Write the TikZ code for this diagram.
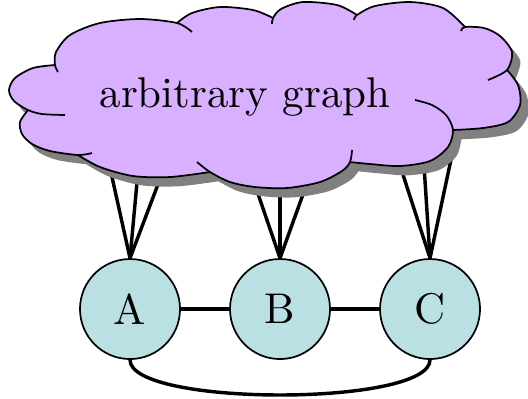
\documentclass[tikz,border=0pt]{standalone}
\usetikzlibrary{shadows}

\definecolor{cloudfill}{RGB}{217,176,255}
\definecolor{vertfill}{RGB}{186,224,227}

\begin{document}
\begin{tikzpicture}[x=0.008177cm,y=0.008177cm]
      \tikzstyle{vertex} = [circle, draw, fill=vertfill, minimum size=0.818cm, inner sep=0pt]
        \tikzstyle{edge}=[thick]
        \tikzstyle{puff}=[smooth]
      \useasboundingbox (0,0) rectangle (528,-398);
          % the three vertices in a row
          \node[vertex] (A) at (130,-309) {A};
          \node[vertex] (B) at (280,-309) {B};
          \node[vertex] (C) at (430,-309) {C};
          \draw[edge] (A) -- (B);
          \draw[edge] (B) -- (C);
          \draw[edge] (A.south) to[out=-90,in=-90,looseness=0.4] (C.south);
          % edges into the rest of the graph
          \foreach \x [count=\i] in {106,140,171}{
             \coordinate (pa\i) at (\x,-150);
             \draw[edge] (A.north) -- (pa\i);
          }
          \foreach \x [count=\i] in {243,280,319}{
             \coordinate (pb\i) at (\x,-150);
             \draw[edge] (B.north) -- (pb\i);
          }
          \foreach \x [count=\i] in {395,423,453}{
             \coordinate (pc\i) at (\x,-150);
             \draw[edge] (C.north) -- (pc\i);
          }
          % the graph itself: filled cloud first, then each puff
          \path[fill=cloudfill, drop shadow={opacity=1, fill=black!50, shadow xshift=0.45ex, shadow yshift=-0.5ex}]
            plot[puff] coordinates {(177,-23) (140,-19) (100,-23) (70,-35) (56,-52) (55,-65)}
            -- plot[puff] coordinates {(55,-65) (33,-68) (15,-78) (9,-90) (14,-101) (28,-110)}
            -- plot[puff] coordinates {(28,-110) (20,-122) (22,-134) (32,-144) (50,-151) (78,-155)}
            -- plot[puff] coordinates {(78,-155) (100,-167) (133,-176) (170,-177) (210,-172)}
            -- plot[puff] coordinates {(210,-172) (230,-182) (255,-187) (287,-188) (320,-182) (342,-171) (350,-162)}
            -- plot[puff] coordinates {(350,-162) (370,-164) (400,-166) (430,-161) (448,-147) (453,-130)}
            -- plot[puff] coordinates {(453,-130) (483,-128) (508,-122) (520,-105) (518,-85) (507,-70)}
            -- plot[puff] coordinates {(507,-70) (512,-52) (500,-36) (484,-28) (465,-27)}
            -- plot[puff] coordinates {(465,-27) (443,-8) (410,-2) (375,-6) (357,-15)}
            -- plot[puff] coordinates {(357,-15) (337,-5) (303,-2) (281,-9) (273,-18)}
            -- plot[puff] coordinates {(273,-18) (253,-10) (220,-7) (192,-13) (177,-23)}
            -- cycle;
          \draw plot[puff] coordinates {(192,-32) (177,-23) (140,-19) (100,-23) (70,-35) (56,-52) (55,-65) (58,-72)};
          \draw plot[puff] coordinates {(55,-65) (33,-68) (15,-78) (9,-90) (14,-101) (28,-110) (42,-114) (65,-115)};
          \draw plot[puff] coordinates {(28,-110) (20,-122) (22,-134) (32,-144) (50,-151) (78,-155) (92,-153)};
          \draw plot[puff] coordinates {(78,-155) (100,-167) (133,-176) (170,-177) (210,-172)};
          \draw plot[puff] coordinates {(197,-162) (210,-172) (230,-182) (255,-187) (287,-188) (320,-182) (342,-171) (350,-162) (352,-150)};
          \draw plot[puff] coordinates {(350,-162) (370,-164) (400,-166) (430,-161) (448,-147) (453,-130) (446,-115) (432,-105) (415,-100)};
          \draw plot[puff] coordinates {(453,-130) (483,-128) (508,-122) (520,-105) (518,-85) (507,-70)};
          \draw plot[puff] coordinates {(488,-80) (507,-70) (512,-52) (500,-36) (484,-28) (465,-27) (461,-31)};
          \draw plot[puff] coordinates {(465,-27) (443,-8) (410,-2) (375,-6) (357,-15) (354,-20)};
          \draw plot[puff] coordinates {(357,-15) (337,-5) (303,-2) (281,-9) (273,-18) (272,-24)};
          \draw plot[puff] coordinates {(273,-18) (253,-10) (220,-7) (192,-13) (177,-23)};
          \node (label) at (245,-97) {arbitrary graph};
        \end{tikzpicture}
\end{document}
